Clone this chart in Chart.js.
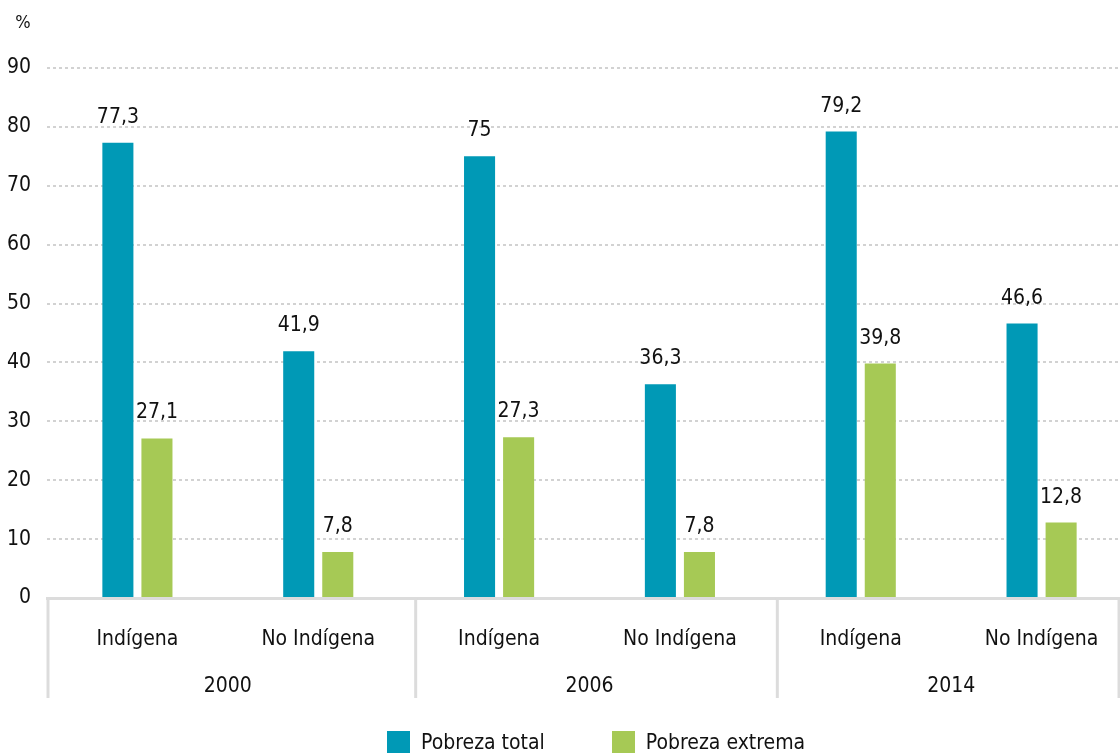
<!DOCTYPE html>
<html lang="es">
<head>
<meta charset="utf-8">
<title>Pobreza total y extrema</title>
<script src="https://cdn.jsdelivr.net/npm/chart.js@4/dist/chart.umd.min.js"></script>
<style>
  html, body { margin: 0; padding: 0; background: #fff; overflow: hidden; }
  #wrap { position: absolute; left: 0; top: 0; width: 1132px; height: 753px; }
  #legend {
    position: absolute; left: 387px; top: 730px;
    display: flex; gap: 67px;
    font: 21px 'DejaVu Sans Condensed', 'DejaVu Sans', sans-serif; color: #111;
  }
  #legend .item { display: flex; align-items: center; }
  #legend .box { width: 23px; height: 23px; margin-right: 11px; }
</style>
</head>
<body>
<div id="wrap"><canvas id="povertyChart"></canvas></div>
<div id="legend"></div>
<script>
const FONT = "'DejaVu Sans Condensed', 'DejaVu Sans', sans-serif";
const TEXT = '#111111';
const SIZE = 21;

// Data
const categories = ['Indígena', 'No Indígena', 'Indígena', 'No Indígena', 'Indígena', 'No Indígena'];
const years = ['2000', '2006', '2014'];
const pobrezaTotal = [77.3, 41.9, 75, 36.3, 79.2, 46.6];
const pobrezaExtrema = [27.1, 7.8, 27.3, 7.8, 39.8, 12.8];
const yTicks = [0, 10, 20, 30, 40, 50, 60, 70, 80, 90];

const fmt = v => String(v).replace('.', ',');

// Value labels above each bar
const valueLabels = {
  id: 'valueLabels',
  afterDatasetsDraw(chart) {
    const ctx = chart.ctx;
    ctx.save();
    ctx.font = `${SIZE}px ${FONT}`;
    ctx.fillStyle = TEXT;
    ctx.textAlign = 'center';
    ctx.textBaseline = 'bottom';
    chart.data.datasets.forEach((ds, i) => {
      chart.getDatasetMeta(i).data.forEach((bar, j) => {
        ctx.fillText(fmt(ds.data[j]), bar.x, bar.y - 15);
      });
    });
    ctx.restore();
  }
};

// Year group labels, separators and the "%" unit
const yearGroups = {
  id: 'yearGroups',
  afterDraw(chart) {
    const ctx = chart.ctx;
    const x = chart.scales.x;
    const area = chart.chartArea;
    const half = (x.getPixelForValue(1) - x.getPixelForValue(0)) / 2;
    ctx.save();
    ctx.strokeStyle = '#dcdcdc';
    ctx.lineWidth = 3;
    for (let g = 0; g <= years.length; g++) {
      let px;
      if (g === years.length) px = x.getPixelForValue(categories.length - 1) + half - 13;
      else px = x.getPixelForValue(g * 2) - half + (g ? 7 : 1);
      ctx.beginPath();
      ctx.moveTo(px, area.bottom);
      ctx.lineTo(px, area.bottom + 100);
      ctx.stroke();
    }
    ctx.font = `${SIZE}px ${FONT}`;
    ctx.fillStyle = TEXT;
    ctx.textAlign = 'center';
    ctx.textBaseline = 'middle';
    years.forEach((yr, g) => {
      const cx = (x.getPixelForValue(g * 2) + x.getPixelForValue(g * 2 + 1)) / 2;
      ctx.fillText(yr, cx, area.bottom + 89);
    });
    ctx.font = `18px ${FONT}`;
    ctx.fillText('%', 23, 23);
    ctx.restore();
  }
};

const chart = new Chart(document.getElementById('povertyChart'), {
  type: 'bar',
  data: {
    labels: categories,
    datasets: [
      {
        label: 'Pobreza total',
        data: pobrezaTotal,
        backgroundColor: '#0099b6',
        categoryPercentage: 0.432,
        barPercentage: 0.795
      },
      {
        label: 'Pobreza extrema',
        data: pobrezaExtrema,
        backgroundColor: '#a6c955',
        categoryPercentage: 0.432,
        barPercentage: 0.795
      }
    ]
  },
  options: {
    responsive: true,
    maintainAspectRatio: false,
    animation: false,
    layout: { padding: { top: 68, right: 0, left: 0, bottom: 55 } },
    scales: {
      x: {
        grid: { display: false },
        border: { color: '#dcdcdc', width: 3 },
        ticks: { color: TEXT, font: { family: FONT, size: SIZE }, padding: 21, maxRotation: 0 },
        afterFit(s) { s.height = 100; }
      },
      y: {
        min: 0,
        max: 90,
        afterBuildTicks(s) { s.ticks = yTicks.map(v => ({ value: v })); },
        grid: { color: '#d2d2d2', lineWidth: 2, drawTicks: false },
        border: { display: false, dash: [3, 3] },
        ticks: { color: TEXT, font: { family: FONT, size: SIZE }, padding: 16 },
        afterFit(s) { s.width = 47; }
      }
    },
    plugins: {
      tooltip: { enabled: false },
      legend: { display: false }
    }
  },
  plugins: [valueLabels, yearGroups]
});

// HTML legend built from the datasets
const legendEl = document.getElementById('legend');
chart.data.datasets.forEach(ds => {
  const item = document.createElement('div');
  item.className = 'item';
  item.innerHTML = `<span class="box" style="background:${ds.backgroundColor}"></span><span>${ds.label}</span>`;
  legendEl.appendChild(item);
});
</script>
</body>
</html>
